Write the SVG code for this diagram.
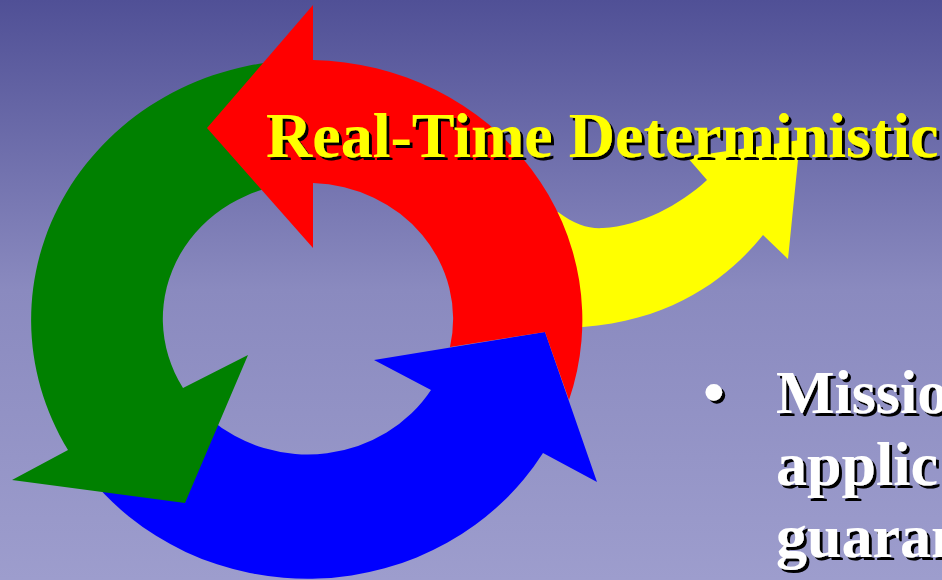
<svg xmlns="http://www.w3.org/2000/svg" width="942" height="580" viewBox="0 0 942 580">
  <defs>
    <linearGradient id="bg" x1="0" y1="0" x2="0" y2="1">
      <stop offset="0" stop-color="#505096"/>
      <stop offset="0.5" stop-color="#8A8ABF"/>
      <stop offset="1" stop-color="#9D9DCD"/>
    </linearGradient>
    <filter id="shadow" x="-5%" y="-20%" width="110%" height="140%">
      <feDropShadow dx="3" dy="3" stdDeviation="0" flood-color="#000000" flood-opacity="1"/>
    </filter>
  </defs>
  <style>
    .title { font-family: "Liberation Serif", "Times New Roman", serif; font-weight: bold; font-size: 64px; fill: #FFFF00; filter: url(#shadow); }
    .body { font-family: "Liberation Serif", "Times New Roman", serif; font-weight: bold; font-size: 62px; fill: #FFFFFF; filter: url(#shadow); }
  </style>
  <rect x="0" y="0" width="942" height="580" fill="url(#bg)"/>
  <g id="connectors">
    <g id="arrow-blue">
      <path d="M83,469 A275,260 0 0 0 543,453 L597,482 L545,332 L374,360 L431,390 A145,136 0 0 1 209,418 Z" fill="#0000FF"/>
    </g>
    <g id="arrow-green">
      <path d="M300,60 A275,260 0 0 0 68,450 L12,480 L185,503 L248,355 L183,388 A145,136 0 0 1 300,183 Z" fill="#008000"/>
    </g>
    <g id="arrow-yellow">
      <path d="M540,214 L558,212 C575,225 590,229 603,228 C640,226 680,205 707,180 L687,157 L800,140 L788,259 L763,235 C735,270 680,320 583,327 L560,330 Z" fill="#FFFF00"/>
    </g>
    <g id="arrow-red">
      <path d="M313,5 L207,128 L313,248 L313,183 A145,136 0 0 1 450,347 L545,332 L569,400 A275,260 0 0 0 313,60 Z" fill="#FF0000"/>
    </g>
  </g>
  <g id="title">
    <text class="title" x="266" y="157">Real-Time Deterministic</text>
  </g>
  <g id="bullet">
    <text class="body" x="703" y="413">•</text>
    <text class="body" x="776" y="413">Missio</text>
    <text class="body" x="776" y="485">applic</text>
    <text class="body" x="776" y="557">guaran</text>
  </g>
</svg>
